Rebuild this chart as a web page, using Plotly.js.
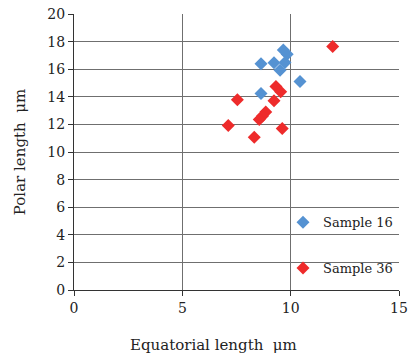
<!DOCTYPE html>
<html><head><meta charset="utf-8">
<script src="https://cdn.plot.ly/plotly-3.0.1.min.js"></script>
<style>body{margin:0;background:#fff}#c{width:409px;height:353px}</style>
</head><body><div id="c"></div>
<script>
const s16x = [9.66, 9.84, 8.63, 9.23, 9.74, 9.51, 10.43, 8.63];
const s16y = [17.4, 17.08, 16.4, 16.46, 16.48, 15.93, 15.1, 14.24];
const s36x = [11.94, 9.32, 9.54, 7.54, 9.23, 8.85, 8.7, 8.55, 7.12, 9.61, 8.32];
const s36y = [17.64, 14.75, 14.36, 13.78, 13.71, 12.9, 12.6, 12.35, 11.92, 11.71, 11.06];
const seriesNames = ['Sample 16', 'Sample 36'];
const xTicks = [0, 5, 10, 15];
const yTicks = [0, 2, 4, 6, 8, 10, 12, 14, 16, 18, 20];

const fam = 'DejaVu Serif, Liberation Serif, serif';
const data = [
  {x: s16x, y: s16y, name: seriesNames[0], type: 'scatter', mode: 'markers', legendgroup: 'a',
   marker: {symbol: 'diamond', size: 10, color: '#5592d2'}},
  {x: s36x, y: s36y, name: seriesNames[1], type: 'scatter', mode: 'markers', legendgroup: 'b',
   marker: {symbol: 'diamond', size: 10, color: '#ee2b2b'}}
];
const layout = {
  width: 409, height: 353,
  margin: {l: 74, r: 10, t: 14, b: 63},
  paper_bgcolor: '#fff', plot_bgcolor: '#fff',
  font: {family: fam, size: 14, color: '#222'},
  showlegend: true,
  legend: {x: 0.643, xanchor: 'left', y: 0.3, yanchor: 'top', bgcolor: 'rgba(0,0,0,0)',
           tracegroupgap: 26, font: {family: fam, size: 13, color: '#222'}},
  annotations: [{text: 'Equatorial length  μm', xref: 'paper', yref: 'paper', x: 0.43, y: -0.2,
                 xanchor: 'center', yanchor: 'middle', showarrow: false,
                 font: {family: fam, size: 15, color: '#222'}}],
  xaxis: {range: [0, 15], tickvals: xTicks, ticktext: xTicks.map(String),
          showgrid: true, gridcolor: '#6f6f6f', gridwidth: 1, zeroline: false,
          showline: true, linecolor: '#333', linewidth: 1,
          ticks: 'outside', ticklen: 5, tickcolor: '#333',
          tickfont: {family: fam, size: 14, color: '#222'},
          fixedrange: true},
  yaxis: {range: [0, 20], tickvals: yTicks, ticktext: yTicks.map(String),
          showgrid: true, gridcolor: '#6f6f6f', gridwidth: 1, zeroline: false,
          showline: true, linecolor: '#333', linewidth: 1,
          ticks: 'outside', ticklen: 5, tickcolor: '#333',
          tickfont: {family: fam, size: 14, color: '#222'},
          title: {text: 'Polar length  μm', font: {family: fam, size: 15, color: '#222'}, standoff: 18},
          fixedrange: true}
};
Plotly.newPlot('c', data, layout, {displayModeBar: false, staticPlot: true});
</script></body></html>
